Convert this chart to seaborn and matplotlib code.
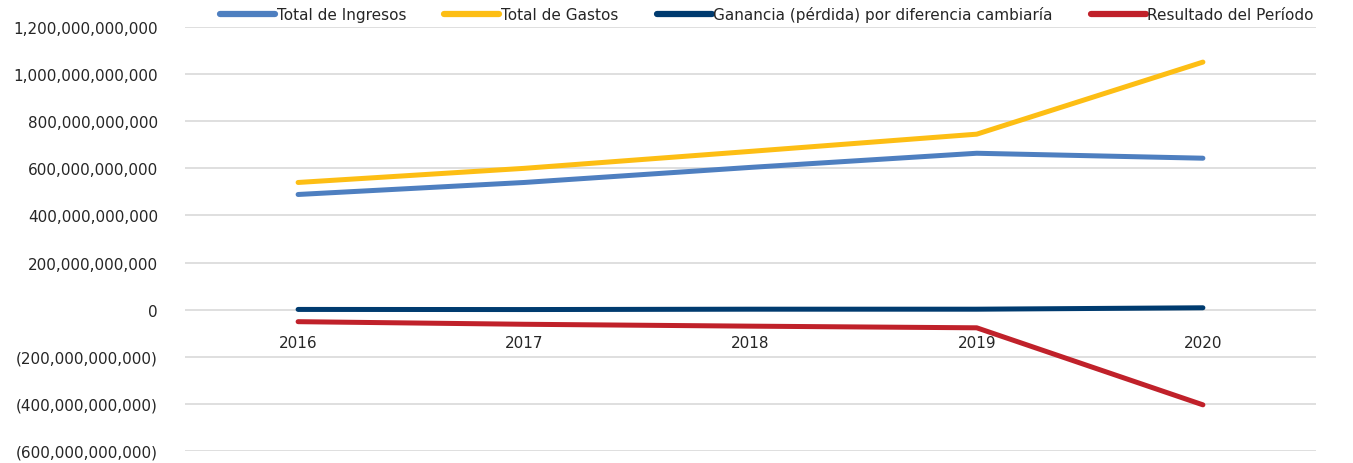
import numpy as np
import pandas as pd
import seaborn as sns
import matplotlib.pyplot as plt
from matplotlib.ticker import FuncFormatter

sns.set_style('white')
plt.rcParams['font.family'] = ['DejaVu Sans']

# Datos
anios = ['2016', '2017', '2018', '2019', '2020']
series = ['Total de Ingresos', 'Total de Gastos',
          'Ganancia (pérdida) por diferencia cambiaría', 'Resultado del Período']
ingresos = [489e9, 540e9, 604e9, 664e9, 643e9]
gastos = [540e9, 600e9, 672e9, 745e9, 1051e9]
ganancia = [1e9, 0.5e9, 2e9, 2e9, 8e9]
resultado = [-51e9, -62e9, -70e9, -77e9, -404e9]
colores = ['#4E7FC0', '#FDBE14', '#003B6F', '#C0212A']

valores = [ingresos, gastos, ganancia, resultado]
df = pd.DataFrame({
    'anio': anios * len(series),
    'serie': np.repeat(series, len(anios)),
    'valor': np.concatenate(valores),
})

fig = plt.figure(figsize=(13.53, 4.64), dpi=100)
ax = fig.add_axes([185 / 1353, 12 / 464, 1131 / 1353, 424 / 464])

sns.lineplot(data=df, x='anio', y='valor', hue='serie', hue_order=series,
             palette=colores, linewidth=3.6, ax=ax, sort=False,
             solid_capstyle='round', legend=False)

ax.set_xlim(-0.5, 4.5)
ax.set_ylim(-600e9, 1200e9)
ax.set_yticks(np.arange(-600e9, 1200e9 + 1, 200e9))


def formato(v, pos):
    if v < 0:
        return f'({abs(v):,.0f})'
    return f'{v:,.0f}'


ax.yaxis.set_major_formatter(FuncFormatter(formato))
ax.grid(axis='y', color='#D9D9D9', linewidth=1.2)
ax.set_axisbelow(True)
for s in ['top', 'right', 'left']:
    ax.spines[s].set_visible(False)
ax.spines['bottom'].set_position(('data', 0))
ax.spines['bottom'].set_visible(False)
ax.tick_params(axis='x', length=0, pad=18, labelsize=11, colors='#262626')
ax.tick_params(axis='y', length=0, pad=19.5, labelsize=11, colors='#262626')
ax.set_xlabel('')
ax.set_ylabel('')

handles = [plt.Line2D([], [], color=c, linewidth=4.5, solid_capstyle='round')
           for c in colores]
fig.legend(handles, series, loc='center', ncol=4, frameon=False,
           bbox_to_anchor=(767 / 1353, 1 - 15 / 464), fontsize=11,
           handlelength=3.6, handletextpad=0.1, columnspacing=2.5,
           labelcolor='#262626')

fig.savefig('out.png', dpi=100)
